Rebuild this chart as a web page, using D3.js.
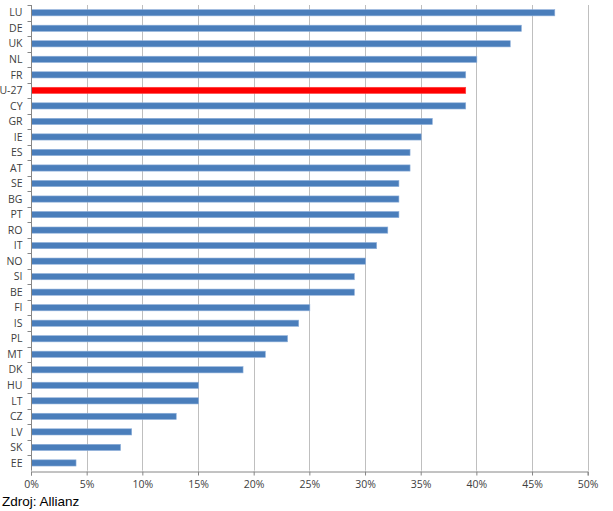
<!DOCTYPE html>
<html><head><meta charset="utf-8">
<script src="https://cdn.jsdelivr.net/npm/d3@7"></script>
<style>body{margin:0;background:#fff;}svg{display:block;}</style>
</head><body>
<svg id="c" width="613" height="511"></svg>
<script>
const countries = ["LU","DE","UK","NL","FR","EU-27","CY","GR","IE","ES","AT","SE","BG","PT","RO","IT","NO","SI","BE","FI","IS","PL","MT","DK","HU","LT","CZ","LV","SK","EE"];
const values = [47,44,43,40,39,39,39,36,35,34,34,33,33,33,32,31,30,29,29,25,24,23,21,19,15,15,13,9,8,4];
const highlight = "EU-27";
const xTicks = [0,5,10,15,20,25,30,35,40,45,50];
const source = "Zdroj: Allianz";

const svg = d3.select("#c");
const m = {l:31, r:613-587.7, t:5, b:511-470.7};
const W = 613, H = 511;
const x = d3.scaleLinear().domain([0,50]).range([m.l, W-m.r]);
const y = d3.scaleBand().domain(countries).range([m.t, H-m.b]).paddingInner(0.6).paddingOuter(0.3);
const yb = d3.scaleBand().domain(countries).range([m.t, H-m.b]);

// gridlines
svg.append("g").selectAll("line").data(xTicks.slice(1)).join("line")
  .attr("x1", d=>Math.round(x(d))+0.5).attr("x2", d=>Math.round(x(d))+0.5)
  .attr("y1", m.t).attr("y2", H-m.b)
  .attr("stroke", "#BFBFBF").attr("stroke-width", 1);

// bars
svg.append("g").selectAll("rect").data(countries).join("rect")
  .attr("x", x(0)+0.5)
  .attr("y", d=>y(d))
  .attr("width", (d,i)=>x(values[i])-x(0))
  .attr("height", y.bandwidth())
  .attr("fill", d=> d===highlight ? "#FF0000" : "#4A7EBB")
  .attr("stroke", d=> d===highlight ? "#FF4040" : "#8FB0DA")
  .attr("stroke-width", 0.6);

// x axis
const xa = svg.append("g").attr("transform", `translate(0,${Math.round(H-m.b)+0.5})`)
  .call(d3.axisBottom(x).tickValues(xTicks).tickFormat(d=>d+"%").tickSize(4).tickPadding(5));
xa.select(".domain").attr("stroke", "#868686");
xa.selectAll(".tick line").attr("stroke", "#868686");
xa.selectAll("text").attr("font-family","'Open Sans', sans-serif").attr("font-size", 10.5).attr("fill","#404040");

// y axis
const ya = svg.append("g").attr("transform", `translate(${Math.round(m.l)+0.5},0)`);
ya.append("line").attr("x1",0).attr("x2",0).attr("y1",m.t).attr("y2",H-m.b).attr("stroke","#868686");
ya.selectAll("line.t").data(countries).join("line").attr("class","t")
  .attr("x1",-4).attr("x2",0)
  .attr("y1", d=>Math.round(yb(d))+0.5).attr("y2", d=>Math.round(yb(d))+0.5)
  .attr("stroke","#868686");
ya.selectAll("text").data(countries).join("text")
  .attr("x", -9).attr("y", d=>yb(d)+yb.bandwidth()/2)
  .attr("dy","0.35em").attr("text-anchor","end")
  .attr("font-family","'Open Sans', sans-serif").attr("font-size",10.5).attr("fill","#404040")
  .text(d=>d);

svg.append("text").attr("x",2).attr("y",506)
  .attr("font-family","'Liberation Sans', Arial, sans-serif").attr("font-size",13.5).attr("fill","#000")
  .text(source);
</script>
</body></html>
